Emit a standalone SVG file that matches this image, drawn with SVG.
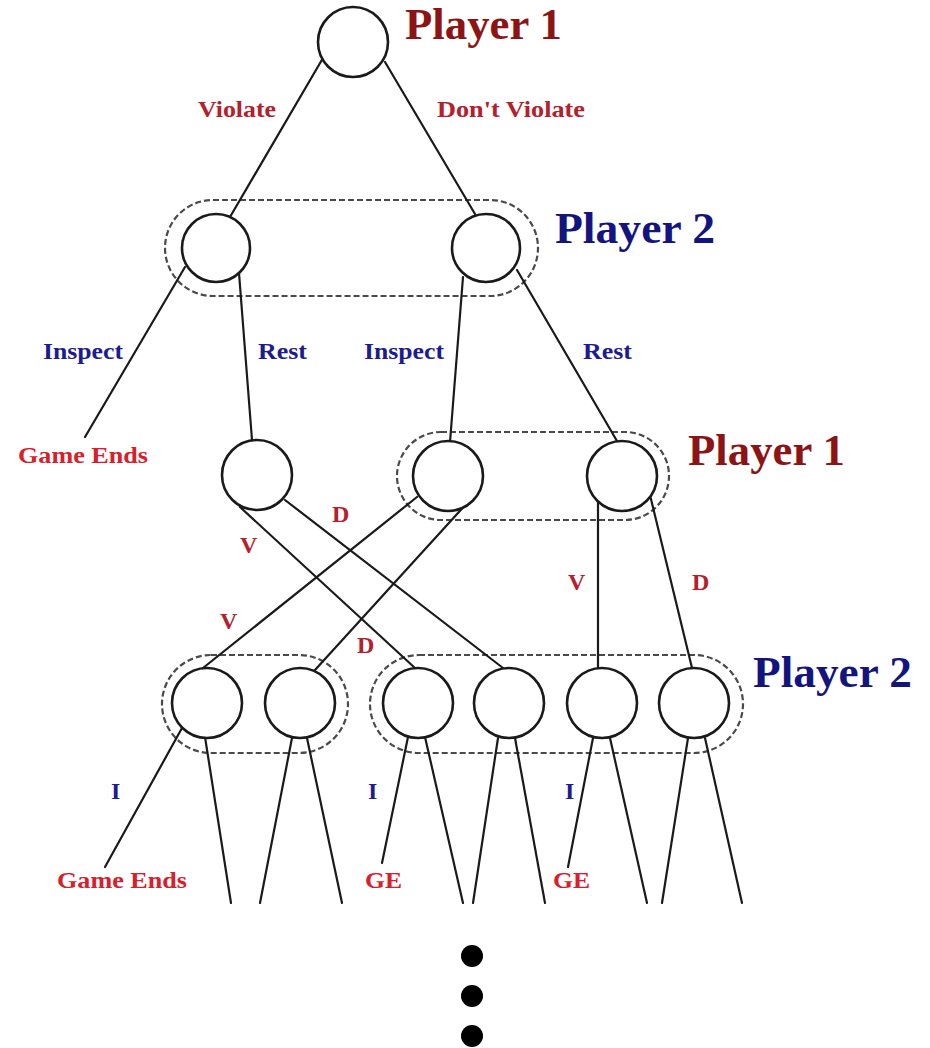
<svg xmlns="http://www.w3.org/2000/svg" width="930" height="1048" viewBox="0 0 930 1048">
  <style>
    .node { fill: #ffffff; stroke: #1a1a1a; stroke-width: 2.6; }
    .edge { stroke: #1a1a1a; stroke-width: 2.2; fill: none; stroke-linecap: round; }
    .info { fill: none; stroke: #4a4a4a; stroke-width: 2.2; stroke-dasharray: 6 3; }
    .player { font-family: "Liberation Serif", "Times New Roman", serif; font-weight: bold; font-size: 45px; }
    .lbl { font-family: "Liberation Serif", "Times New Roman", serif; font-weight: bold; font-size: 24px; }
    .p1 { fill: #8c1414; }
    .p2 { fill: #14147f; }
    .act1 { fill: #b4202c; }
    .act2 { fill: #1c1c8e; }
    .end { fill: #d8202c; }
    .dot { fill: #000000; }
  </style>
  <rect width="930" height="1048" fill="#ffffff"/>

  <!-- information sets -->
  <g id="info-sets">
    <rect class="info" x="165" y="200" width="373" height="96" rx="48" ry="48"/>
    <rect class="info" x="397" y="432" width="272" height="88" rx="44" ry="44"/>
    <rect class="info" x="162" y="655" width="186" height="98" rx="49" ry="49"/>
    <rect class="info" x="370" y="655" width="373" height="98" rx="49" ry="49"/>
  </g>

  <!-- connectors (start points sit just inside the node so the circle covers the joint) -->
  <g id="connectors">
    <!-- root -->
    <line class="edge" x1="323" y1="58" x2="230" y2="217"/>
    <line class="edge" x1="385" y1="62" x2="475" y2="214"/>
    <!-- player 2, first move -->
    <line class="edge" x1="185" y1="267" x2="85" y2="437"/>
    <line class="edge" x1="239" y1="273" x2="252" y2="440"/>
    <line class="edge" x1="463" y1="277" x2="450" y2="442"/>
    <line class="edge" x1="517" y1="270" x2="617" y2="441"/>
    <!-- player 1, second move -->
    <line class="edge" x1="240" y1="507" x2="415" y2="668"/>
    <line class="edge" x1="285" y1="500" x2="503" y2="668"/>
    <line class="edge" x1="417" y1="497" x2="203" y2="668"/>
    <line class="edge" x1="468" y1="502" x2="315" y2="670"/>
    <line class="edge" x1="598" y1="495" x2="598" y2="668"/>
    <line class="edge" x1="650" y1="495" x2="692" y2="668"/>
    <!-- player 2, second move -->
    <line class="edge" x1="182" y1="728" x2="105" y2="867"/>
    <line class="edge" x1="205" y1="737" x2="231" y2="903"/>
    <line class="edge" x1="292" y1="738" x2="260" y2="903"/>
    <line class="edge" x1="307" y1="738" x2="342" y2="903"/>
    <line class="edge" x1="408" y1="737" x2="382" y2="863"/>
    <line class="edge" x1="425" y1="737" x2="463" y2="903"/>
    <line class="edge" x1="498" y1="738" x2="473" y2="903"/>
    <line class="edge" x1="515" y1="738" x2="545" y2="903"/>
    <line class="edge" x1="593" y1="738" x2="568" y2="867"/>
    <line class="edge" x1="610" y1="738" x2="647" y2="903"/>
    <line class="edge" x1="688" y1="738" x2="662" y2="903"/>
    <line class="edge" x1="705" y1="738" x2="742" y2="903"/>
  </g>

  <!-- decision nodes -->
  <g id="root"><circle class="node" cx="353" cy="42" r="35"/></g>
  <g id="p2-violate"><circle class="node" cx="216" cy="248" r="34"/></g>
  <g id="p2-comply"><circle class="node" cx="486" cy="248" r="34"/></g>
  <g id="p1-after-rest-v"><circle class="node" cx="257" cy="475" r="35"/></g>
  <g id="p1-after-inspect"><circle class="node" cx="448" cy="476" r="35"/></g>
  <g id="p1-after-rest-d"><circle class="node" cx="622" cy="476" r="35"/></g>
  <g id="p2-n1"><circle class="node" cx="207" cy="703" r="35"/></g>
  <g id="p2-n2"><circle class="node" cx="300" cy="703" r="35"/></g>
  <g id="p2-n3"><circle class="node" cx="418" cy="703" r="35"/></g>
  <g id="p2-n4"><circle class="node" cx="509" cy="703" r="35"/></g>
  <g id="p2-n5"><circle class="node" cx="602" cy="703" r="35"/></g>
  <g id="p2-n6"><circle class="node" cx="694" cy="703" r="35"/></g>

  <!-- player labels -->
  <g id="player-labels">
    <text class="player p1" x="405" y="39" font-size="43" textLength="157" lengthAdjust="spacingAndGlyphs">Player 1</text>
    <text class="player p2" x="555" y="243" textLength="160" lengthAdjust="spacingAndGlyphs">Player 2</text>
    <text class="player p1" x="688" y="465" textLength="157" lengthAdjust="spacingAndGlyphs">Player 1</text>
    <text class="player p2" x="753" y="687" textLength="159" lengthAdjust="spacingAndGlyphs">Player 2</text>
  </g>

  <!-- action labels -->
  <g id="action-labels">
    <text class="lbl act1" x="198" y="117" textLength="78" lengthAdjust="spacingAndGlyphs">Violate</text>
    <text class="lbl act1" x="437" y="117" textLength="148" lengthAdjust="spacingAndGlyphs">Don't Violate</text>
    <text class="lbl act2" x="43" y="359" textLength="80" lengthAdjust="spacingAndGlyphs">Inspect</text>
    <text class="lbl act2" x="258" y="359" textLength="49" lengthAdjust="spacingAndGlyphs">Rest</text>
    <text class="lbl act2" x="364" y="359" textLength="80" lengthAdjust="spacingAndGlyphs">Inspect</text>
    <text class="lbl act2" x="583" y="359" textLength="49" lengthAdjust="spacingAndGlyphs">Rest</text>
    <text class="lbl act1" x="332" y="522">D</text>
    <text class="lbl act1" x="240" y="553">V</text>
    <text class="lbl act1" x="220" y="629">V</text>
    <text class="lbl act1" x="357" y="653">D</text>
    <text class="lbl act1" x="568" y="590">V</text>
    <text class="lbl act1" x="692" y="590">D</text>
    <text class="lbl act2" x="111" y="799">I</text>
    <text class="lbl act2" x="368" y="799">I</text>
    <text class="lbl act2" x="565" y="799">I</text>
  </g>

  <!-- terminal labels -->
  <g id="terminal-labels">
    <text class="lbl end" x="18" y="463" textLength="130" lengthAdjust="spacingAndGlyphs">Game Ends</text>
    <text class="lbl end" x="57" y="888" textLength="130" lengthAdjust="spacingAndGlyphs">Game Ends</text>
    <text class="lbl end" x="365" y="888" textLength="37" lengthAdjust="spacingAndGlyphs">GE</text>
    <text class="lbl end" x="553" y="888" textLength="37" lengthAdjust="spacingAndGlyphs">GE</text>
  </g>

  <!-- continuation -->
  <g id="ellipsis">
    <circle class="dot" cx="472" cy="956" r="11"/>
    <circle class="dot" cx="472" cy="996" r="11"/>
    <circle class="dot" cx="472" cy="1036" r="11"/>
  </g>
</svg>
